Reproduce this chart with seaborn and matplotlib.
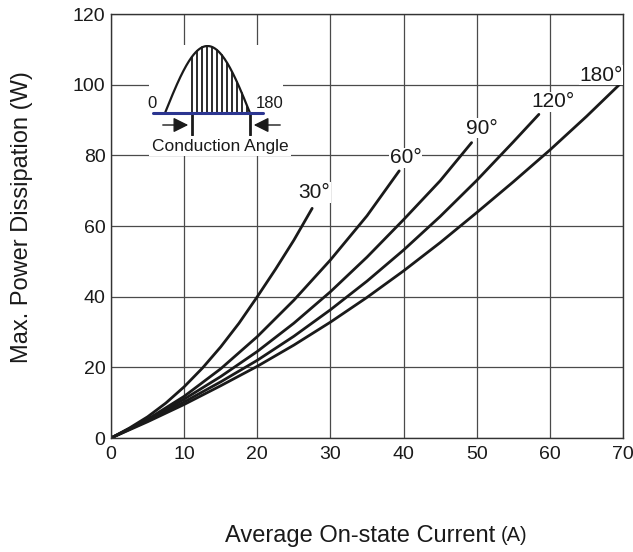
import matplotlib
matplotlib.use('Agg')

import numpy as np
import pandas as pd
import matplotlib.pyplot as plt
import seaborn as sns

# values (conduction angle -> I_avg, P_max)
angles = ['30°', '60°', '90°', '120°', '180°']

current_30 = [0, 2.5, 5, 7.5, 10, 12.5, 15, 17.5, 20, 22.5, 25, 27.5]
power_30 = [0, 2.8, 6.0, 9.9, 14.5, 19.8, 25.8, 32.5, 40.0, 47.8, 56.0, 65.0]

current_60 = [0, 5, 10, 15, 20, 25, 30, 35, 39.4]
power_60 = [0, 5.3, 11.8, 19.6, 28.7, 39.0, 50.4, 62.9, 75.6]

current_90 = [0, 5, 10, 15, 20, 25, 30, 35, 40, 45, 49.3]
power_90 = [0, 5.1, 11.0, 17.4, 24.5, 32.5, 41.4, 51.2, 61.8, 72.8, 83.6]

current_120 = [0, 5, 10, 15, 20, 25, 30, 35, 40, 45, 50, 55, 58.5]
power_120 = [0, 4.9, 10.2, 15.9, 22.0, 28.8, 36.3, 44.4, 53.2, 62.7, 72.9, 83.8, 91.6]

current_180 = [0, 5, 10, 15, 20, 25, 30, 35, 40, 45, 50, 55, 60, 65, 70]
power_180 = [0, 4.6, 9.5, 14.8, 20.3, 26.3, 32.8, 39.8, 47.3, 55.3, 63.8, 72.5, 81.5, 91.0, 101.0]

x_ticks = [0, 10, 20, 30, 40, 50, 60, 70]
y_ticks = [0, 20, 40, 60, 80, 100, 120]

currents = [current_30, current_60, current_90, current_120, current_180]
powers = [power_30, power_60, power_90, power_120, power_180]

frames = []
for ang, cur, pw in zip(angles, currents, powers):
    frames.append(pd.DataFrame({'current': cur, 'power': pw, 'angle': ang}))
df = pd.concat(frames, ignore_index=True)

sns.set_style('white')
plt.rcParams['font.family'] = ['Liberation Sans', 'DejaVu Sans']

fig = plt.figure(figsize=(6.33, 5.52), dpi=100)
ax = fig.add_axes([0.1754, 0.2065, 0.8088, 0.7681])

sns.lineplot(data=df, x='current', y='power', hue='angle', hue_order=angles,
             palette=['#1a1a1a'] * len(angles), sort=False, estimator=None,
             linewidth=2.0, legend=False, ax=ax)
for ln in ax.get_lines():
    ln.set_solid_joinstyle('round')

ax.set_xlim(0, 70)
ax.set_ylim(0, 120)
ax.set_xticks(x_ticks)
ax.set_yticks(y_ticks)
ax.grid(True, color='#4a4a4a', linewidth=0.9)
ax.set_axisbelow(True)
ax.tick_params(length=0, labelsize=14, colors='#1a1a1a')
ax.tick_params(axis='x', pad=6)
ax.tick_params(axis='y', pad=4)
for s in ax.spines.values():
    s.set_color('#333333')
    s.set_linewidth(1.0)

ax.set_xlabel('')
ax.set_ylabel('Max. Power Dissipation (W)', fontsize=17, color='#1a1a1a')
ax.yaxis.set_label_coords(-0.152, 0.52)

# x label with a smaller unit, like the datasheet
xl = ax.text(0.2227, -0.205, 'Average On-state Current', transform=ax.transAxes,
             fontsize=17, ha='left', va='top', color='#1a1a1a')
ax.annotate('(A)', xy=(1, 0.08), xycoords=xl, xytext=(4, 0),
            textcoords='offset points', fontsize=14.5, ha='left', va='bottom',
            color='#1a1a1a')

# curve labels
label_pos = [(27.8, 69.5), (40.3, 79.3), (50.7, 87.7), (60.4, 95.1), (67.0, 102.7)]
for ang, (lx, ly) in zip(angles, label_pos):
    ax.text(lx, ly, ang, fontsize=15, ha='center', va='center', color='#1a1a1a',
            bbox=dict(facecolor='white', edgecolor='none', pad=0.5))

# inset schematic: half sine wave with conduction angle
ins = fig.add_axes([149 / 633, 1 - 140 / 552, 134 / 633, 95 / 552])
ins.set_facecolor('white')
ins.set_xticks([])
ins.set_yticks([])
for s in ins.spines.values():
    s.set_visible(False)
ins.set_xlim(149, 283)
ins.set_ylim(140, 45)

x0, x1, base, peak = 165, 250, 113, 46
xs = np.linspace(x0, x1, 200)
wave = base - (base - peak) * np.sin(np.pi * (xs - x0) / (x1 - x0))
ins.plot(xs, wave, color='#1a1a1a', lw=1.6)
for hx in np.arange(192, 250, 5):
    hy = base - (base - peak) * np.sin(np.pi * (hx - x0) / (x1 - x0))
    ins.plot([hx, hx], [base, hy], color='#1a1a1a', lw=1.3)
ins.plot([192, 192], [base, 135], color='#1a1a1a', lw=2.0, clip_on=False)
ins.plot([250, 250], [base, 135], color='#1a1a1a', lw=2.0, clip_on=False)
ins.plot([153, 263], [base, base], color='#2b3590', lw=2.2)
ins.annotate('', xy=(191, 125), xytext=(160, 125),
             arrowprops=dict(arrowstyle='-|>,head_length=0.9,head_width=0.45',
                             color='#1a1a1a', lw=1.0))
ins.annotate('', xy=(251, 125), xytext=(283, 125),
             arrowprops=dict(arrowstyle='-|>,head_length=0.9,head_width=0.45',
                             color='#1a1a1a', lw=1.0))
ins.text(152, 104, '0', fontsize=12, ha='center', va='center', color='#1a1a1a')
ins.text(270, 104, '180', fontsize=12, ha='center', va='center', color='#1a1a1a')
ins.text(220, 146, 'Conduction Angle', fontsize=12.5, ha='center', va='center',
         color='#1a1a1a', clip_on=False,
         bbox=dict(facecolor='white', edgecolor='none', pad=2))

fig.savefig('out.png', dpi=100)
